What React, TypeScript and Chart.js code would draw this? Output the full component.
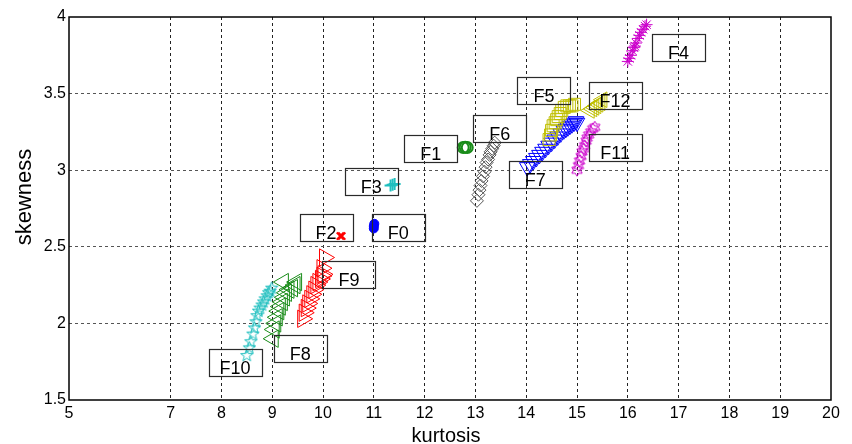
import React, { useEffect, useRef } from "react";
import { Chart, registerables } from "chart.js";

Chart.register(...registerables);

// Axis ticks
const xTickValues = [5, 7, 8, 9, 10, 11, 12, 13, 14, 15, 16, 17, 18, 19, 20];
const yTickValues = [1.5, 2, 2.5, 3, 3.5, 4];

// Series (kurtosis, skewness)
const f0Kurt = [11.0, 11.0, 11.01];
const f0Skew = [2.62, 2.635, 2.65];

const f1Kurt = [12.76, 12.8, 12.84];
const f1Skew = [3.148, 3.15, 3.148];

const f2Kurt = [10.34, 10.37];
const f2Skew = [2.57, 2.57];

const f3Kurt = [11.33, 11.37, 11.41];
const f3Skew = [2.9, 2.905, 2.91];

const f4Kurt = [16.0, 16.03, 16.06, 16.09, 16.12, 16.14, 16.16, 16.2, 16.23, 16.26, 16.3, 16.34, 16.37];
const f4Skew = [3.71, 3.73, 3.75, 3.78, 3.8, 3.81, 3.83, 3.86, 3.88, 3.9, 3.92, 3.94, 3.95];

const f5Kurt = [14.45, 14.48, 14.5, 14.53, 14.57, 14.6, 14.63, 14.67, 14.7, 14.75, 14.8, 14.85, 14.9, 14.95];
const f5Skew = [3.2, 3.23, 3.26, 3.29, 3.31, 3.33, 3.35, 3.37, 3.39, 3.41, 3.42, 3.42, 3.42, 3.43];

const f6Kurt = [13.03, 13.06, 13.08, 13.1, 13.12, 13.15, 13.18, 13.2, 13.22, 13.25, 13.28, 13.3, 13.33, 13.36, 13.38];
const f6Skew = [2.8, 2.84, 2.87, 2.9, 2.93, 2.96, 2.99, 3.02, 3.05, 3.07, 3.1, 3.12, 3.14, 3.16, 3.18];

const f7Kurt = [14.02, 14.08, 14.14, 14.2, 14.26, 14.32, 14.38, 14.44, 14.5, 14.56, 14.62, 14.68, 14.74, 14.78, 14.82, 14.86, 14.9, 14.94, 14.98, 15.0];
const f7Skew = [3.02, 3.04, 3.06, 3.08, 3.1, 3.12, 3.14, 3.16, 3.18, 3.2, 3.22, 3.24, 3.26, 3.27, 3.28, 3.29, 3.3, 3.31, 3.32, 3.31];

const f8Kurt = [9.02, 9.04, 9.07, 9.1, 9.13, 9.16, 9.2, 9.24, 9.28, 9.33, 9.4, 9.45, 9.22, 9.48];
const f8Skew = [1.9, 1.96, 2.0, 2.04, 2.08, 2.11, 2.14, 2.17, 2.2, 2.22, 2.23, 2.25, 2.27, 2.27];

const f9Kurt = [9.6, 9.63, 9.67, 9.7, 9.74, 9.78, 9.82, 9.86, 9.9, 9.95, 9.98, 10.0, 9.98, 10.03];
const f9Skew = [2.03, 2.07, 2.1, 2.13, 2.16, 2.19, 2.22, 2.25, 2.27, 2.29, 2.31, 2.32, 2.36, 2.43];

const f10Kurt = [8.5, 8.55, 8.58, 8.62, 8.65, 8.68, 8.7, 8.73, 8.76, 8.8, 8.83, 8.86, 8.9, 8.93, 8.96, 8.99];
const f10Skew = [1.79, 1.84, 1.88, 1.93, 1.97, 2.01, 2.05, 2.08, 2.1, 2.12, 2.14, 2.16, 2.18, 2.2, 2.21, 2.23];

const f11Kurt = [15.0, 15.03, 15.05, 15.08, 15.1, 15.13, 15.15, 15.18, 15.2, 15.23, 15.27, 15.31, 15.35];
const f11Skew = [3.0, 3.03, 3.06, 3.09, 3.12, 3.14, 3.16, 3.19, 3.21, 3.23, 3.25, 3.27, 3.28];

const f12Kurt = [15.25, 15.3, 15.34, 15.38, 15.42, 15.46, 15.5];
const f12Skew = [3.39, 3.4, 3.41, 3.42, 3.43, 3.44, 3.46];

// Label boxes (name, kurtosis, skewness of box centre)
const labelNames = ["F0", "F1", "F2", "F3", "F4", "F5", "F6", "F7", "F8", "F9", "F10", "F11", "F12"];
const labelKurt = [11.48, 12.12, 10.06, 10.95, 17.0, 14.35, 13.48, 14.18, 9.55, 10.51, 8.27, 15.75, 15.75];
const labelSkew = [2.623, 3.142, 2.623, 2.926, 3.804, 3.517, 3.269, 2.969, 1.833, 2.319, 1.745, 3.148, 3.49];

const FONT = '"Liberation Sans", Arial, Helvetica, sans-serif';

const pts = (xs: number[], ys: number[]) => xs.map((x, i) => ({ x, y: ys[i] }));

function makeStar(n: number, inner: number, size: number, color: string): HTMLCanvasElement {
  const c = document.createElement("canvas");
  c.width = size;
  c.height = size;
  const g = c.getContext("2d")!;
  const r = size / 2 - 1;
  const cx = size / 2;
  const cy = size / 2;
  g.strokeStyle = color;
  g.lineWidth = 1;
  g.beginPath();
  for (let i = 0; i < 2 * n; i++) {
    const rad = i % 2 === 0 ? r : r * inner;
    const a = -Math.PI / 2 + (i * Math.PI) / n;
    const px = cx + rad * Math.cos(a);
    const py = cy + rad * Math.sin(a);
    if (i === 0) g.moveTo(px, py);
    else g.lineTo(px, py);
  }
  g.closePath();
  g.stroke();
  return c;
}

const overlay = {
  id: "overlay",
  afterDatasetsDraw(chart: any) {
    const { ctx, chartArea: a, scales } = chart;
    const xs = scales.x;
    const ys = scales.y;
    ctx.save();
    ctx.setLineDash([]);
    // label boxes
    ctx.strokeStyle = "#2a2a2a";
    ctx.lineWidth = 1.2;
    ctx.font = `18px ${FONT}`;
    ctx.fillStyle = "#000";
    ctx.textAlign = "center";
    ctx.textBaseline = "alphabetic";
    for (let i = 0; i < labelNames.length; i++) {
      const cx = xs.getPixelForValue(labelKurt[i]);
      const cy = ys.getPixelForValue(labelSkew[i]);
      ctx.strokeRect(Math.round(cx - 26.5) + 0.5, Math.round(cy - 13.5) + 0.5, 53, 27);
      ctx.fillText(labelNames[i], cx, cy + 11.5);
    }
    // frame
    ctx.strokeStyle = "#000";
    ctx.lineWidth = 1.5;
    ctx.strokeRect(a.left, a.top, a.right - a.left, a.bottom - a.top);
    // axis titles
    ctx.fillStyle = "#000";
    ctx.font = `20px ${FONT}`;
    ctx.textAlign = "center";
    ctx.fillText("kurtosis", (a.left + a.right) / 2 - 4, 442);
    ctx.save();
    ctx.translate(31, 197);
    ctx.rotate(-Math.PI / 2);
    ctx.font = `22px ${FONT}`;
    ctx.fillText("skewness", 0, 0);
    ctx.restore();
    ctx.restore();
  },
};

export default function App() {
  const ref = useRef<HTMLCanvasElement | null>(null);

  useEffect(() => {
    if (!ref.current) return;
    const pentagram = makeStar(5, 0.4, 15, "#1fbfbf");
    const hexagram = makeStar(6, 0.58, 14, "#cc00cc");

    const base = {
      showLine: false,
      pointBorderWidth: 1,
      pointBackgroundColor: "rgba(0,0,0,0)",
    };

    const datasets: any[] = [
      { ...base, label: "F0", data: pts(f0Kurt, f0Skew), pointStyle: "circle", pointRadius: 4.5, pointBorderColor: "#0000ff", pointBackgroundColor: "#0000ff" },
      { ...base, label: "F1", data: pts(f1Kurt, f1Skew), pointStyle: "circle", pointRadius: 5.5, pointBorderWidth: 2, pointBorderColor: "#1a8c1a" },
      { ...base, label: "F2", data: pts(f2Kurt, f2Skew), pointStyle: "crossRot", pointRadius: 5, pointBorderWidth: 2, pointBorderColor: "#ff0000" },
      { ...base, label: "F3", data: pts(f3Kurt, f3Skew), pointStyle: "cross", pointRadius: 6, pointBorderWidth: 2, pointBorderColor: "#1fbfbf" },
      { ...base, label: "F4", data: pts(f4Kurt, f4Skew), pointStyle: "star", pointRadius: 6, pointBorderColor: "#cc00cc" },
      { ...base, label: "F5", data: pts(f5Kurt, f5Skew), pointStyle: "rect", pointRadius: 8.5, pointBorderColor: "#bfbf00" },
      { ...base, label: "F6", data: pts(f6Kurt, f6Skew), pointStyle: "rectRot", pointRadius: 6.5, pointBorderColor: "#555555" },
      { ...base, label: "F7", data: pts(f7Kurt, f7Skew), pointStyle: "triangle", pointRotation: 180, pointRadius: 9, pointBorderColor: "#0000ff" },
      { ...base, label: "F8", data: pts(f8Kurt, f8Skew), pointStyle: "triangle", pointRotation: 270, pointRadius: 10, pointBorderColor: "#1a8c1a" },
      { ...base, label: "F9", data: pts(f9Kurt, f9Skew), pointStyle: "triangle", pointRotation: 90, pointRadius: 10, pointBorderColor: "#ff0000" },
      { ...base, label: "F10", data: pts(f10Kurt, f10Skew), pointStyle: pentagram, pointRadius: 7.5 },
      { ...base, label: "F11", data: pts(f11Kurt, f11Skew), pointStyle: hexagram, pointRadius: 7 },
      { ...base, label: "F12", data: pts(f12Kurt, f12Skew), pointStyle: "triangle", pointRotation: 270, pointRadius: 9, pointBorderColor: "#bfbf00" },
    ];

    const chart = new Chart(ref.current, {
      type: "scatter",
      data: { datasets },
      options: {
        animation: false,
        responsive: false,
        devicePixelRatio: 1,
        layout: { padding: { left: 0, right: 21, top: 17, bottom: 0 } },
        plugins: { legend: { display: false }, tooltip: { enabled: false } },
        scales: {
          x: {
            type: "linear",
            min: 5,
            max: 20,
            afterBuildTicks: (s: any) => {
              s.ticks = xTickValues.map((v) => ({ value: v }));
            },
            afterFit: (s: any) => {
              s.height = 44;
            },
            grid: {
              drawTicks: false,
              color: (c: any) => (c.tick && (c.tick.value === 5 || c.tick.value === 20) ? "rgba(0,0,0,0)" : "#222"),
              lineWidth: 1,
            },
            border: { display: false, dash: [3, 3] },
            ticks: {
              padding: 4,
              color: "#000",
              font: { family: FONT, size: 16 },
              autoSkip: false,
              maxRotation: 0,
              callback: (v: any) => String(v),
            },
          },
          y: {
            type: "linear",
            min: 1.5,
            max: 4,
            afterBuildTicks: (s: any) => {
              s.ticks = yTickValues.map((v) => ({ value: v }));
            },
            afterFit: (s: any) => {
              s.width = 69;
            },
            grid: {
              drawTicks: false,
              color: (c: any) => (c.tick && (c.tick.value === 1.5 || c.tick.value === 4) ? "rgba(0,0,0,0)" : "#555"),
              lineWidth: 1,
            },
            border: { display: false, dash: [3, 3] },
            ticks: {
              padding: 3,
              color: "#000",
              font: { family: FONT, size: 16 },
              autoSkip: false,
              callback: (v: any) => String(v),
            },
          },
        },
      },
      plugins: [overlay],
    });
    return () => chart.destroy();
  }, []);

  return (
    <div style={{ position: "fixed", left: 0, top: 0, width: 852, height: 444, background: "#fff" }}>
      <canvas ref={ref} width={852} height={444} style={{ width: 852, height: 444 }} />
    </div>
  );
}
